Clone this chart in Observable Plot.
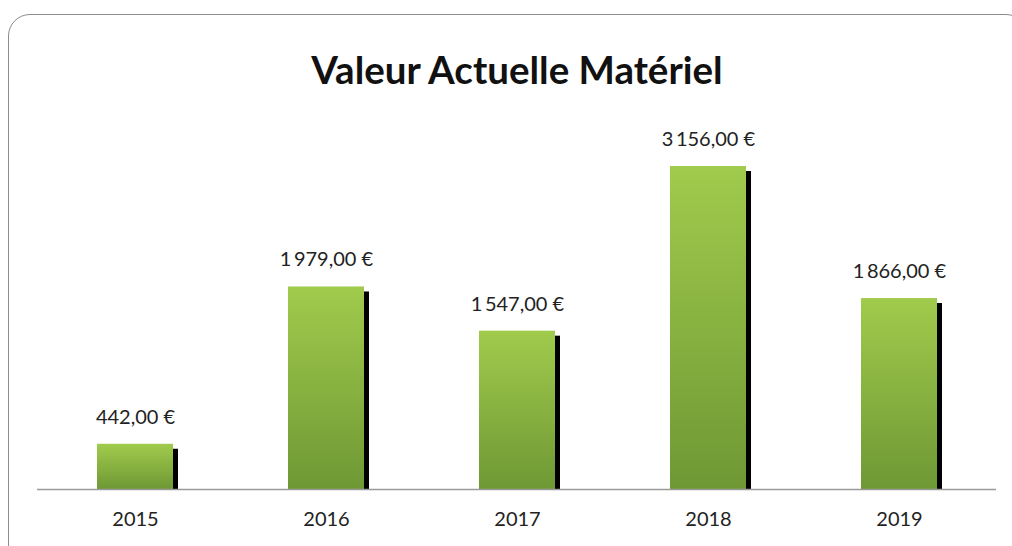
<!DOCTYPE html>
<html>
<head>
<meta charset="utf-8">
<script src="https://cdn.jsdelivr.net/npm/d3@7"></script>
<script src="https://cdn.jsdelivr.net/npm/@observablehq/plot@0.6"></script>
<style>
  html, body { margin: 0; padding: 0; background: #fff; }
  #wrap { position: relative; width: 1012px; height: 546px; overflow: hidden; font-family: Lato, "Open Sans", sans-serif; }
  #frame { position: absolute; left: 8px; top: 14px; width: 1020px; height: 560px; border: 1.5px solid #8c8c8c; border-radius: 22px; box-sizing: border-box; }
  #title { position: absolute; left: 11px; width: 1012px; top: 43px; text-align: center; font-weight: 700; font-size: 38.5px; color: #111; line-height: 52px; }
  #chart { position: absolute; left: 0; top: 0; }
</style>
</head>
<body>
<div id="wrap">
  <div id="frame"></div>
  <div id="chart"></div>
  <div id="title">Valeur Actuelle Matériel</div>
</div>
<script>
const years = ["2015", "2016", "2017", "2018", "2019"];
const values = [442, 1979, 1547, 3156, 1866];

const data = years.map((y, i) => ({year: y, value: values[i]}));
const fr = d3.formatLocale({decimal: ",", thousands: "\u2009", grouping: [3], currency: ["", "\u00a0€"]});
const fmt = v => fr.format(",.2f")(v) + "\u00a0€";

const chart = Plot.plot({
  width: 1012,
  height: 546,
  marginLeft: 37,
  marginRight: 16,
  marginTop: 166,
  marginBottom: 57,
  style: {fontFamily: "Lato, 'Open Sans', sans-serif", background: "transparent", overflow: "visible"},
  x: {domain: years, paddingInner: 0.604, paddingOuter: 0.302, axis: null},
  y: {domain: [0, 3156], axis: null},
  marks: [
    () => {
      const svg = d3.create("svg:defs");
      const g = svg.append("linearGradient").attr("id", "barGrad").attr("x1", 0).attr("y1", 0).attr("x2", 0).attr("y2", 1);
      g.append("stop").attr("offset", "0%").attr("stop-color", "#a1cb4c");
      g.append("stop").attr("offset", "100%").attr("stop-color", "#6e9834");
      return svg.node();
    },
    Plot.barY(data, {x: "year", y: "value", fill: "#000", dx: 5, insetTop: 5}),
    Plot.barY(data, {x: "year", y: "value", fill: "url(#barGrad)"}),
    Plot.ruleY([0], {stroke: "#9a9a9a", strokeWidth: 1.5}),
    Plot.text(data, {x: "year", y: "value", text: d => fmt(d.value), dy: -27, fontSize: 20, fill: "#222"}),
    Plot.text(data, {x: "year", text: "year", frameAnchor: "bottom", dy: 36, fontSize: 20, fill: "#222"})
  ]
});
document.getElementById("chart").appendChild(chart);
</script>
</body>
</html>
